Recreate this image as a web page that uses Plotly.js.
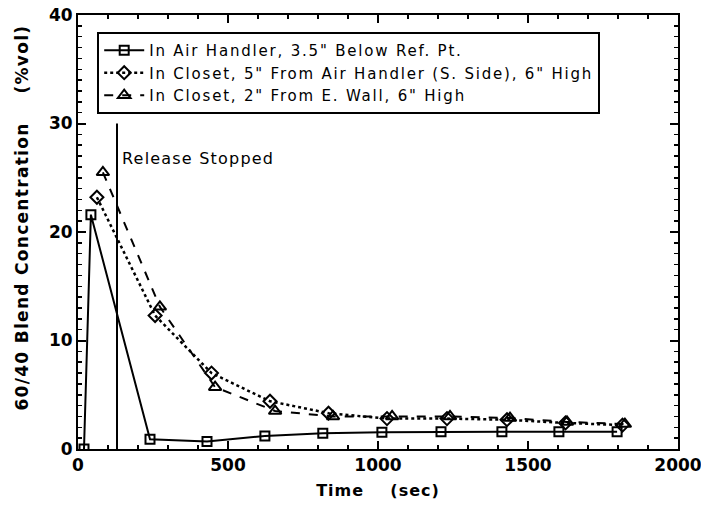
<!DOCTYPE html>
<html>
<head>
<meta charset="utf-8">
<script src="https://cdn.plot.ly/plotly-3.0.1.min.js"></script>
<style>
html,body{margin:0;padding:0;background:#fff;}
text.legendtext{letter-spacing:1.8px;}
text.annotation-text{letter-spacing:1.2px;}
text.ytitle{letter-spacing:1.3px;}
text.xtitle{letter-spacing:1px;}
</style>
</head>
<body>
<div id="chart" style="width:701px;height:509px;"></div>
<script>
// Series 1: In Air Handler
const t1 = [20, 43, 240, 430, 623, 816, 1013, 1210, 1413, 1603, 1797];
const c1 = [0, 21.6, 0.9, 0.7, 1.2, 1.45, 1.55, 1.6, 1.6, 1.6, 1.6];
// Series 2: In Closet, 5" From Air Handler
const t2 = [63, 257, 445, 640, 835, 1030, 1230, 1430, 1625, 1815];
const c2 = [23.2, 12.3, 7.0, 4.4, 3.3, 2.8, 2.8, 2.7, 2.4, 2.2];
// Series 3: In Closet, 2" From E. Wall
const t3 = [83, 273, 457, 657, 850, 1047, 1240, 1440, 1630, 1823];
const c3 = [25.5, 13.1, 5.7, 3.5, 3.0, 3.0, 3.0, 2.85, 2.5, 2.3];
// Release stopped marker line
const releaseX = [130, 130];
const releaseY = [0, 30];
const names = [
  'In Air Handler, 3.5" Below Ref. Pt.',
  'In Closet, 5" From Air Handler (S. Side), 6" High',
  'In Closet, 2" From E. Wall, 6" High'
];

const FONT = 'DejaVu Sans, Liberation Sans, sans-serif';
const traces = [
  {x: t1, y: c1, name: names[0], mode: 'lines+markers',
   line: {color: '#000', width: 2, dash: 'solid'},
   marker: {symbol: 'square-open', size: 9, color: '#000', line: {width: 2}}},
  {x: t2, y: c2, name: names[1], mode: 'lines+markers',
   line: {color: '#000', width: 2.5, dash: 'dot'},
   marker: {symbol: 'diamond-open', size: 10, color: '#000', line: {width: 2}}},
  {x: t3, y: c3, name: names[2], mode: 'lines+markers',
   line: {color: '#000', width: 2, dash: 'dash'},
   marker: {symbol: 'triangle-up-open', size: 11, color: '#000', line: {width: 2}}},
  {x: releaseX, y: releaseY, mode: 'lines', showlegend: false, hoverinfo: 'skip',
   line: {color: '#000', width: 2}}
];

const layout = {
  width: 701, height: 509,
  margin: {l: 78, r: 23, t: 15, b: 60},
  paper_bgcolor: '#fff', plot_bgcolor: '#fff',
  font: {family: FONT, color: '#000'},
  showlegend: true,
  legend: {
    x: 0.032, y: 0.961, xanchor: 'left', yanchor: 'top',
    bgcolor: '#fff', bordercolor: '#000', borderwidth: 2,
    font: {family: FONT, size: 15, color: '#000'},
    tracegroupgap: 0, itemwidth: 40
  },
  xaxis: {
    range: [0, 2000], tickvals: [0, 500, 1000, 1500, 2000],
    ticks: 'inside', ticklen: 8, tickwidth: 2, tickcolor: '#000',
    minor: {dtick: 100, ticks: 'inside', ticklen: 4, tickwidth: 1.5, tickcolor: '#000'},
    showline: true, linewidth: 2, linecolor: '#000', mirror: 'ticks',
    showgrid: false, zeroline: false, ticklabeloverflow: 'allow',
    tickfont: {family: FONT, size: 17, color: '#000', weight: 'bold'},
    title: {text: '<b>Time    (sec)</b>', font: {family: FONT, size: 16, color: '#000'}, standoff: 10},
    automargin: false
  },
  yaxis: {
    range: [0, 40], tickvals: [0, 10, 20, 30, 40],
    ticks: 'inside', ticklen: 8, tickwidth: 2, tickcolor: '#000',
    minor: {dtick: 1, ticks: 'inside', ticklen: 4, tickwidth: 1.5, tickcolor: '#000'},
    showline: true, linewidth: 2, linecolor: '#000', mirror: 'ticks',
    showgrid: false, zeroline: false, ticklabeloverflow: 'allow',
    tickfont: {family: FONT, size: 17, color: '#000', weight: 'bold'},
    title: {text: '<b>&nbsp;&nbsp;&nbsp;&nbsp;60/40 Blend Concentration    (%vol)</b>', font: {family: FONT, size: 17, color: '#000'}, standoff: 16},
    automargin: false
  },
  annotations: [
    {x: 140, y: 26.8, xref: 'x', yref: 'y', xanchor: 'left', yanchor: 'middle',
     text: 'Release Stopped', showarrow: false,
     font: {family: FONT, size: 16, color: '#000'}}
  ]
};

Plotly.newPlot('chart', traces, layout, {displayModeBar: false, staticPlot: true});
</script>
</body>
</html>
